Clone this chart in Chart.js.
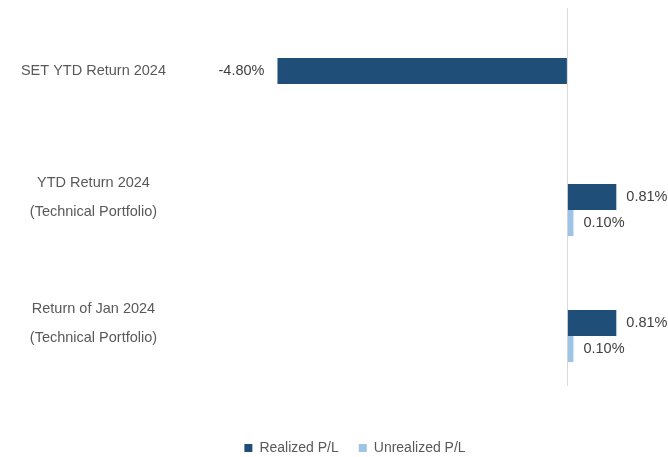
<!DOCTYPE html>
<html>
<head>
<meta charset="utf-8">
<script src="https://cdn.jsdelivr.net/npm/chart.js@4.4.1/dist/chart.umd.min.js"></script>
<style>
  html, body { margin: 0; padding: 0; background: #fff; }
  #wrap { width: 668px; height: 457px; }
</style>
</head>
<body>
<div id="wrap"><canvas id="chart"></canvas></div>
<script>
// data
const categories = [
  ["SET YTD Return 2024"],
  ["YTD Return 2024", "(Technical Portfolio)"],
  ["Return of Jan 2024", "(Technical Portfolio)"]
];
const realized = [-4.80, 0.81, 0.81];
const unrealized = [null, 0.10, 0.10];
const spacer = [null, null, null]; // empty first slot, as in the original
const seriesNames = ["Realized P/L", "Unrealized P/L"];

const DARK = "#1f4e79";
const LIGHT = "#9dc3e6";
const FONT = "'Liberation Sans', Arial, sans-serif";

/* value labels next to each bar */
const valueLabels = {
  id: "valueLabels",
  afterDatasetsDraw(chart) {
    const ctx = chart.ctx;
    ctx.save();
    ctx.font = "14.5px " + FONT;
    ctx.fillStyle = "#404040";
    ctx.textBaseline = "middle";
    chart.data.datasets.forEach((ds, di) => {
      if (!ds.label) return;
      const meta = chart.getDatasetMeta(di);
      meta.data.forEach((bar, i) => {
        const v = ds.data[i];
        if (v === null || v === undefined) return;
        const txt = v.toFixed(2) + "%";
        if (v < 0) {
          ctx.textAlign = "right";
          ctx.fillText(txt, bar.x - 13, bar.y);
        } else {
          ctx.textAlign = "left";
          ctx.fillText(txt, bar.x + 10, bar.y);
        }
      });
    });
    ctx.restore();
  }
};

/* nudge the legend a little right and down */
const legendShift = {
  id: "legendShift",
  afterLayout(chart) {
    const lg = chart.legend;
    lg.left += 26; lg.right += 26;
    lg.top += 8; lg.bottom += 8;
  }
};

new Chart(document.getElementById("chart"), {
  type: "bar",
  data: {
    labels: categories,
    datasets: [
      { label: "", data: spacer, backgroundColor: "rgba(0,0,0,0)" },
      { label: seriesNames[0], data: realized, backgroundColor: DARK },
      { label: seriesNames[1], data: unrealized, backgroundColor: LIGHT }
    ]
  },
  options: {
    indexAxis: "y",
    responsive: true,
    maintainAspectRatio: false,
    animation: false,
    categoryPercentage: 0.62,
    barPercentage: 1,
    layout: { padding: { top: 8, right: 10, left: 0, bottom: 0 } },
    scales: {
      x: {
        min: -6,
        max: 1.5,
        ticks: { display: false, stepSize: 0.5 },
        border: { display: false },
        grid: {
          drawTicks: false,
          lineWidth: 1,
          color: c => c.tick && c.tick.value === 0 ? "#d9d9d9" : "rgba(0,0,0,0)"
        },
        afterFit: s => { s.height = 27; }
      },
      y: {
        border: { display: false },
        grid: { display: false },
        ticks: {
          crossAlign: "center",
          padding: 31,
          color: "#595959",
          font: { family: FONT, size: 14.5, lineHeight: 2.0 }
        },
        afterFit: s => {
          s.width = 205;
          s.paddingTop = 0;
          s.paddingBottom = 0;
        }
      }
    },
    plugins: {
      tooltip: { enabled: false },
      legend: {
        position: "bottom",
        labels: {
          filter: item => item.text !== "",
          boxWidth: 8,
          boxHeight: 8,
          padding: 20,
          color: "#595959",
          font: { family: FONT, size: 14 }
        }
      }
    }
  },
  plugins: [valueLabels, legendShift]
});
</script>
</body>
</html>
